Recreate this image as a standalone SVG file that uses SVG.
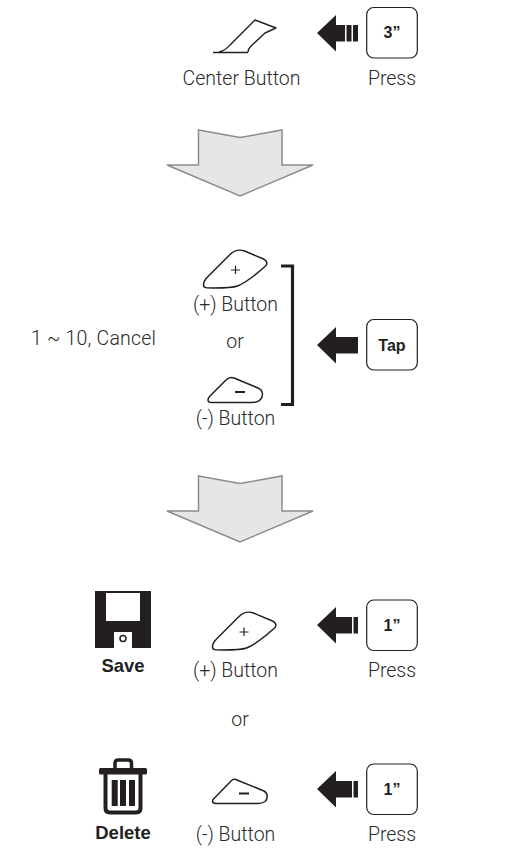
<svg xmlns="http://www.w3.org/2000/svg" width="514" height="868" viewBox="0 0 514 868">
<style>
text{font-family:"Roboto","Liberation Sans",sans-serif}
.l{font-size:19.500px;font-weight:300;fill:#2a2a2a;text-anchor:middle}
.b{font-size:18.500px;font-weight:700;fill:#231f20;text-anchor:middle;font-family:"Liberation Sans",sans-serif}
.k{font-size:16px;font-weight:700;fill:#231f20;text-anchor:middle;font-family:"Liberation Sans",sans-serif}
.key{fill:#fff;stroke:#231f20;stroke-width:1.2}
.btn{fill:#fff;stroke:#231f20;stroke-width:1.5;stroke-linejoin:round}
.big{fill:#e6e6e6;stroke:#8c8c8c;stroke-width:1.5;stroke-linejoin:miter}
.ar{fill:#231f20}
.gap{fill:#fff}
</style>
<defs>
<path id="bigarrow" class="big" d="M198.500 130L240 137.500L282 130V165H313L240 196L167 165H198.500Z"/>
<path id="arrow" class="ar" d="M317 0L336 -18V-8H358V8.500H336V18.500Z"/>
<path id="plusbtn" d="M0 0C0 -3 2 -6 4 -8L26 -30C31 -35 35 -36 41 -34L60 -26C64 -24 64 -21 62 -19C52 -10 44 -3 34 1C30 2.500 24 3 10 3C3 3 0 3 0 0Z"/>
</defs>
<g id="connectors">
<use href="#bigarrow"/>
<use href="#bigarrow" y="346"/>
<use href="#arrow" y="33"/>
<rect class="gap" x="345" y="20" width="1.500" height="25"/>
<rect class="gap" x="351.500" y="20" width="1.500" height="25"/>
<use href="#arrow" y="345"/>
<use href="#arrow" y="625"/>
<rect class="gap" x="352" y="615" width="1.500" height="20"/>
<use href="#arrow" y="789"/>
<rect class="gap" x="352" y="779" width="1.500" height="20"/>
<path d="M281 266H292.500V404.500H281" fill="none" stroke="#231f20" stroke-width="3.200"/>
</g>
<g id="center-button">
<path d="M213 52.500H248M219 52C226 50.500 228 47 232 43L255 20L276 28L265 33L251 46C249 48 248 50 248 52" fill="none" stroke="#231f20" stroke-width="1.400" stroke-linejoin="round"/>
<text class="l" x="241.500" y="85">Center Button</text>
</g>
<g id="key-3s">
<rect class="key" x="366.700" y="7.500" width="50.600" height="50.500" rx="7"/>
<text class="k" x="392" y="38">3”</text>
<text class="l" x="392" y="85">Press</text>
</g>
<g id="label-cancel"><text class="l" x="93.500" y="345" textLength="125">1 ~ 10, Cancel</text></g>
<g id="plus-button-1">
<use href="#plusbtn" class="btn" x="203.500" y="285"/>
<path d="M235.500 265.500V274M231 270H240" stroke="#231f20" stroke-width="1.200" fill="none"/>
<text class="l" x="235.500" y="311">(+) Button</text>
</g>
<g id="or-1"><text class="l" x="235" y="348">or</text></g>
<g id="minus-button-1">
<path class="btn" d="M208 400C208 398 209 397 210 396L226 380C229 377 231 377 234 378L258 388C263 390 264 396 260 400C258 402 256 402.500 252 402.500H212C209 402.500 208 402 208 400Z"/>
<rect x="235" y="391" width="10" height="2" fill="#231f20"/>
<text class="l" x="235.500" y="425">(-) Button</text>
</g>
<g id="key-tap">
<rect class="key" x="366.700" y="319.500" width="50.600" height="50.500" rx="7"/>
<text class="k" x="392" y="351">Tap</text>
</g>
<g id="save">
<rect x="95" y="591" width="56" height="57" fill="#231f20"/>
<rect x="106" y="593" width="34" height="28" fill="#fff"/>
<rect x="114" y="632" width="18" height="16" fill="#fff"/>
<circle cx="123" cy="638.500" r="3" fill="none" stroke="#231f20" stroke-width="1.500"/>
<text class="b" x="123" y="672">Save</text>
</g>
<g id="plus-button-2">
<use href="#plusbtn" class="btn" x="212.500" y="647"/>
<path d="M244 627.500V636M239.500 632H248.500" stroke="#231f20" stroke-width="1.200" fill="none"/>
<text class="l" x="235.500" y="677">(+) Button</text>
</g>
<g id="key-1s-a">
<rect class="key" x="366.700" y="600" width="50.600" height="50.500" rx="7"/>
<text class="k" x="392" y="631">1”</text>
<text class="l" x="392" y="677">Press</text>
</g>
<g id="or-2"><text class="l" x="240" y="726">or</text></g>
<g id="delete">
<path d="M115 768V763C115 761 116.500 760 118.500 760H128C130 760 131.500 761 131.500 763V768" fill="none" stroke="#231f20" stroke-width="3.500"/>
<rect x="99" y="768" width="48" height="6.500" rx="1.500" fill="#231f20"/>
<path d="M105.500 772V808C105.500 811 107 812.500 110 812.500H136C139 812.500 140.500 811 140.500 808V772" fill="none" stroke="#231f20" stroke-width="4"/>
<rect x="111.700" y="780" width="6" height="26" fill="#231f20"/>
<rect x="120" y="780" width="6" height="26" fill="#231f20"/>
<rect x="129" y="780" width="6" height="26" fill="#231f20"/>
<text class="b" x="123" y="839">Delete</text>
</g>
<g id="minus-button-2">
<path class="btn" d="M212.500 801C212.500 800 213 799.500 214 798.500L231 781C233 779 235 779 237 780L264 791C268 793 268 799 265 801.500C263 803 261 803.500 258 803.500H216C213.500 803.500 212.500 803 212.500 801Z"/>
<rect x="239" y="792.500" width="10" height="2" fill="#231f20"/>
<text class="l" x="235.500" y="841">(-) Button</text>
</g>
<g id="key-1s-b">
<rect class="key" x="366.700" y="764" width="50.600" height="50.500" rx="7"/>
<text class="k" x="392" y="795">1”</text>
<text class="l" x="392" y="841">Press</text>
</g>
</svg>
